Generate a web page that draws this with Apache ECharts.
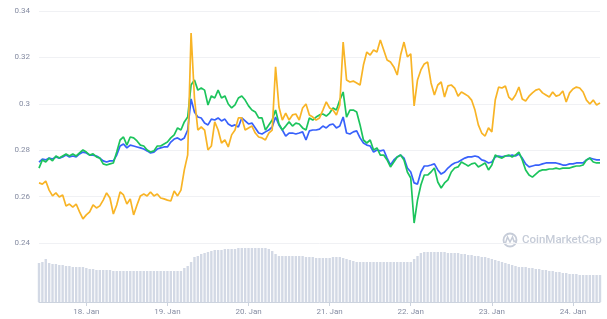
<!DOCTYPE html>
<html>
<head>
<meta charset="utf-8">
<script src="https://cdn.jsdelivr.net/npm/echarts@6/dist/echarts.min.js"></script>
<style>
html,body{margin:0;padding:0;background:#fff;}
#chart{width:607px;height:319px;}
</style>
</head>
<body>
<div id="chart"></div>
<script>
// hourly points starting 17 Jan 10:00
const startDay = 17;
const startHour = 10;
const monthName = 'Jan';

const orange = [
0.2659,0.2654,0.2667,0.2628,0.2603,0.2616,0.2598,0.2607,0.2560,0.2568,
0.2555,0.2568,0.2534,0.2504,0.2521,0.2534,0.2564,0.2551,0.2560,0.2585,
0.2616,0.2594,0.2525,0.2564,0.2620,0.2607,0.2568,0.2590,0.2521,0.2564,
0.2603,0.2611,0.2603,0.2620,0.2603,0.2611,0.2594,0.2590,0.2585,0.2581,
0.2624,0.2603,0.2628,0.2715,0.2780,0.3305,0.3025,0.2887,0.2900,0.2887,
0.2801,0.2818,0.2922,0.2887,0.2831,0.2844,0.2814,0.2866,0.2887,0.2939,
0.2939,0.2887,0.2896,0.2904,0.2874,0.2857,0.2853,0.2844,0.2874,0.2887,
0.3159,0.2986,0.2930,0.2960,0.2930,0.2952,0.2956,0.2930,0.2982,0.2999,
0.2952,0.2943,0.2930,0.2939,0.2973,0.3008,0.2982,0.2973,0.2952,0.2995,
0.3266,0.3103,0.3094,0.3098,0.3090,0.3081,0.3167,0.3223,0.3210,0.3232,
0.3223,0.3275,0.3232,0.3189,0.3180,0.3159,0.3124,0.3210,0.3266,0.3202,
0.3215,0.2991,0.3103,0.3146,0.3172,0.3180,0.3090,0.3038,0.3081,0.3094,
0.3029,0.3077,0.3081,0.3068,0.3033,0.3051,0.3042,0.3033,0.3016,0.2973,
0.2909,0.2874,0.2861,0.2896,0.2879,0.3016,0.3072,0.3068,0.3077,0.3029,
0.3016,0.3038,0.3072,0.3021,0.3012,0.3033,0.3047,0.3059,0.3064,0.3047,
0.3038,0.3029,0.3051,0.3033,0.3038,0.3055,0.3008,0.3047,0.3064,0.3072,
0.3068,0.3051,0.3016,0.2999,0.3016,0.2995,0.3004
];

const green = [
0.2723,0.2758,0.2749,0.2766,0.2754,0.2775,0.2766,0.2775,0.2784,0.2775,
0.2784,0.2775,0.2788,0.2801,0.2792,0.2779,0.2784,0.2771,0.2766,0.2741,
0.2736,0.2741,0.2745,0.2792,0.2844,0.2857,0.2822,0.2857,0.2853,0.2840,
0.2822,0.2818,0.2801,0.2792,0.2797,0.2818,0.2818,0.2827,0.2835,0.2853,
0.2866,0.2896,0.2887,0.2922,0.2943,0.3081,0.3103,0.3059,0.3068,0.3059,
0.2995,0.3034,0.3025,0.3059,0.3025,0.3034,0.2999,0.2982,0.2995,0.3025,
0.3034,0.3016,0.2991,0.2973,0.2965,0.2939,0.2939,0.2887,0.2909,0.2930,
0.2973,0.2913,0.2887,0.2904,0.2922,0.2904,0.2917,0.2913,0.2896,0.2887,
0.2939,0.2930,0.2943,0.2952,0.2956,0.2947,0.2960,0.2982,0.2973,0.3016,
0.3051,0.2943,0.2973,0.2973,0.2965,0.2909,0.2844,0.2831,0.2844,0.2801,
0.2810,0.2779,0.2779,0.2758,0.2728,0.2749,0.2771,0.2779,0.2758,0.2706,
0.2680,0.2486,0.2585,0.2650,0.2693,0.2693,0.2706,0.2723,0.2663,0.2637,
0.2659,0.2672,0.2706,0.2723,0.2728,0.2749,0.2741,0.2732,0.2741,0.2745,
0.2728,0.2736,0.2745,0.2715,0.2736,0.2779,0.2771,0.2766,0.2775,0.2779,
0.2771,0.2779,0.2792,0.2758,0.2715,0.2693,0.2684,0.2697,0.2710,0.2715,
0.2715,0.2719,0.2719,0.2723,0.2719,0.2723,0.2723,0.2723,0.2728,0.2732,
0.2732,0.2736,0.2758,0.2766,0.2749,0.2745,0.2745
];

const blue = [
0.2749,0.2762,0.2758,0.2766,0.2762,0.2771,0.2766,0.2771,0.2779,0.2771,
0.2775,0.2771,0.2784,0.2792,0.2788,0.2779,0.2779,0.2775,0.2766,0.2754,
0.2749,0.2754,0.2754,0.2779,0.2818,0.2827,0.2810,0.2822,0.2818,0.2814,
0.2810,0.2805,0.2797,0.2788,0.2792,0.2805,0.2810,0.2814,0.2814,0.2835,
0.2848,0.2853,0.2844,0.2853,0.2887,0.3021,0.2965,0.2943,0.2939,0.2917,
0.2909,0.2934,0.2930,0.2939,0.2926,0.2934,0.2913,0.2904,0.2909,0.2900,
0.2939,0.2926,0.2913,0.2917,0.2896,0.2874,0.2870,0.2879,0.2887,0.2900,
0.2943,0.2909,0.2887,0.2861,0.2874,0.2874,0.2870,0.2874,0.2879,0.2844,
0.2883,0.2887,0.2887,0.2891,0.2904,0.2896,0.2909,0.2913,0.2896,0.2904,
0.2943,0.2874,0.2870,0.2879,0.2883,0.2853,0.2831,0.2822,0.2818,0.2792,
0.2801,0.2797,0.2801,0.2766,0.2736,0.2758,0.2771,0.2779,0.2766,0.2723,
0.2706,0.2659,0.2654,0.2706,0.2732,0.2732,0.2736,0.2741,0.2715,0.2697,
0.2706,0.2723,0.2736,0.2745,0.2749,0.2758,0.2766,0.2771,0.2771,0.2775,
0.2771,0.2758,0.2754,0.2745,0.2749,0.2771,0.2775,0.2771,0.2775,0.2775,
0.2779,0.2775,0.2784,0.2766,0.2741,0.2728,0.2732,0.2736,0.2736,0.2741,
0.2745,0.2745,0.2745,0.2745,0.2741,0.2736,0.2736,0.2741,0.2741,0.2745,
0.2745,0.2745,0.2758,0.2766,0.2762,0.2758,0.2758
];

const volume = [
39,40,43,39,38,38,37,37,
36,36,35,35,35,35,34,
33,33,32,32,32,32,32,
31,31,31,31,31,31,31,31,31,31,31,31,31,31,31,31,31,31,31,31,31,
34,36,40,45,46,
48,49,50,
51,52,52,52,53,
53,53,53,54,54,
54,54,54,54,54,54,54,53,
51,48,
46,46,46,46,46,46,46,46,
45,45,45,44,44,44,44,44,45,45,45,
44,43,42,41,
40,40,40,40,40,40,40,40,40,40,40,40,40,40,40,40,40,
43,46,
49,50,50,50,50,50,50,50,49,49,49,49,
48,48,47,47,46,
46,45,45,44,43,
42,41,40,39,38,37,
36,35,35,35,34,34,33,
33,32,32,31,31,30,30,29,
29,28,28,28,27,27,27,27,27,27,27
];

const priceTicks = [0.24, 0.26, 0.28, 0.30, 0.32, 0.34];
const dayLabels = ['18. Jan','19. Jan','20. Jan','21. Jan','22. Jan','23. Jan','24. Jan'];

const categories = blue.map((_, i) => {
  const h = startHour + i;
  const day = startDay + Math.floor(h / 24);
  const hh = h % 24;
  return day + ' ' + monthName + ' ' + (hh < 10 ? '0' : '') + hh + ':00';
});
const isMidnight = (idx) => (startHour + idx) % 24 === 0;
const labelFor = (val) => {
  const day = parseInt(val, 10);
  return dayLabels.find(l => parseInt(l, 10) === day) || '';
};

const chart = echarts.init(document.getElementById('chart'), null, {renderer: 'canvas'});
const labelColor = '#858ca2';
const FONT = 'Roboto, "Noto Sans", sans-serif';

chart.setOption({
  animation: false,
  backgroundColor: '#ffffff',
  grid: [
    {left: 39, right: 7, top: 11, height: 232},
    {left: 39, right: 7, top: 243, height: 59}
  ],
  xAxis: [
    {
      type: 'category', gridIndex: 0, data: categories, boundaryGap: false,
      axisLine: {show: false}, axisTick: {show: false}, axisLabel: {show: false}, splitLine: {show: false}
    },
    {
      type: 'category', gridIndex: 1, data: categories, boundaryGap: false,
      axisLine: {show: true, lineStyle: {color: '#ccd3de', width: 1}},
      axisTick: {show: true, length: 4, lineStyle: {color: '#ccd3de'}, interval: (idx) => isMidnight(idx)},
      axisLabel: {
        show: true, interval: (idx) => isMidnight(idx), margin: 6,
        color: labelColor, fontSize: 8, fontFamily: FONT,
        formatter: (val) => labelFor(val)
      },
      splitLine: {show: false}
    }
  ],
  yAxis: [
    {
      type: 'value', gridIndex: 0, min: priceTicks[0], max: priceTicks[priceTicks.length - 1], interval: 0.02,
      axisLine: {show: false}, axisTick: {show: false},
      axisLabel: {color: labelColor, fontSize: 8, fontFamily: FONT, margin: 9,
        formatter: (v) => String(Math.round(v * 100) / 100)},
      splitLine: {show: true, lineStyle: {color: '#f0f1f4', width: 1}}
    },
    {
      type: 'value', gridIndex: 1, min: 0, max: 59,
      axisLine: {show: false}, axisTick: {show: false}, axisLabel: {show: false}, splitLine: {show: false}
    }
  ],
  series: [
    {
      name: 'volume', type: 'bar', xAxisIndex: 1, yAxisIndex: 1, data: volume,
      barWidth: 2.4, itemStyle: {color: '#d3d9e5'}, silent: true
    },
    {
      name: 'blue', type: 'line', xAxisIndex: 0, yAxisIndex: 0, data: blue,
      showSymbol: false, lineStyle: {color: '#3861fb', width: 1.7}, itemStyle: {color: '#3861fb'}
    },
    {
      name: 'green', type: 'line', xAxisIndex: 0, yAxisIndex: 0, data: green,
      showSymbol: false, lineStyle: {color: '#1cc45c', width: 1.7}, itemStyle: {color: '#1cc45c'}
    },
    {
      name: 'orange', type: 'line', xAxisIndex: 0, yAxisIndex: 0, data: orange,
      showSymbol: false, lineStyle: {color: '#f8b426', width: 1.7}, itemStyle: {color: '#f8b426'}
    }
  ],
  graphic: [
    {
      type: 'circle', shape: {cx: 510, cy: 240, r: 6.5}, z: 0,
      style: {fill: 'none', stroke: '#c6ccd8', lineWidth: 1.8}
    },
    {
      type: 'polyline', z: 0,
      shape: {points: [[505.5, 243], [507.5, 237], [510, 242], [512.5, 237], [514, 241.5], [516, 241]]},
      style: {fill: 'none', stroke: '#c6ccd8', lineWidth: 1.5}
    },
    {
      type: 'text', left: 522, top: 234, z: 0,
      style: {text: 'CoinMarketCap', fill: '#c6ccd8', font: '500 11.5px Roboto, "Noto Sans", sans-serif'}
    }
  ]
});
</script>
</body>
</html>
